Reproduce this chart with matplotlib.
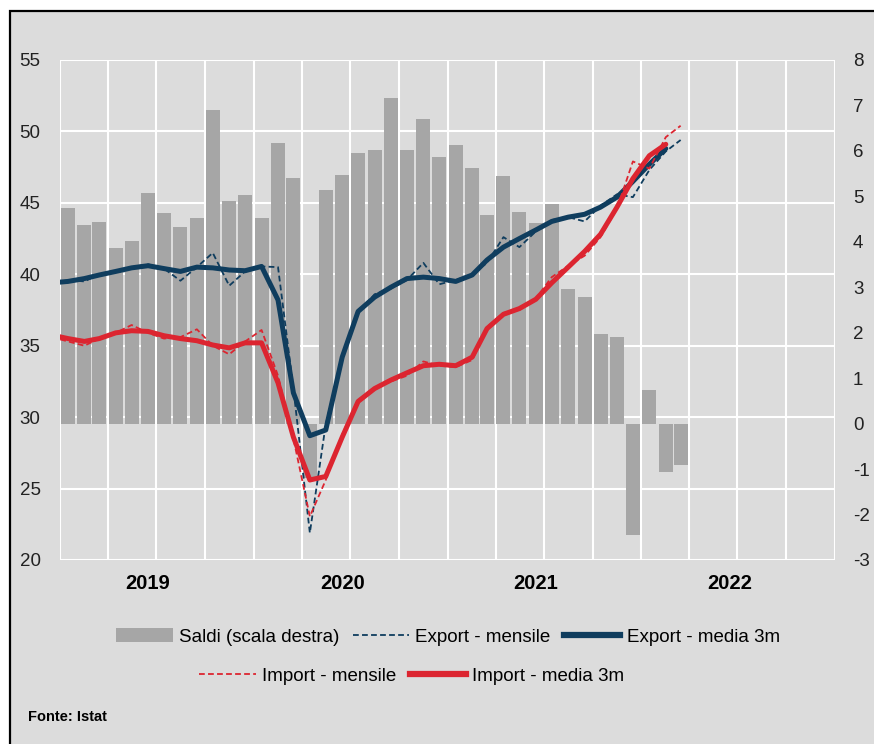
import matplotlib
matplotlib.use("Agg")
import matplotlib.pyplot as plt
import matplotlib.dates as mdates
import pandas as pd
from matplotlib.patches import Rectangle, Patch
from matplotlib.lines import Line2D

plt.rcParams['font.family'] = ['Liberation Sans', 'DejaVu Sans']
plt.rcParams['axes.unicode_minus'] = False

W, H = 874, 744

# monthly lines start in Dec 2018 (clipped by the axis), bars in Jan 2019
line_months = pd.date_range("2018-12-01", "2022-03-01", freq="MS")
bar_months = pd.date_range("2019-01-01", "2022-03-01", freq="MS")

export_mensile = [39.3, 39.6, 39.5, 40.0, 40.2, 40.5, 40.7, 40.4, 39.55, 40.5,
                  41.5, 39.2, 40.2, 40.55, 40.5, 32.0, 21.9, 29.5, 34.2, 37.3,
                  38.6, 39.0, 39.6, 40.8, 39.3, 39.6, 40.0, 40.8, 42.6, 41.9,
                  43.0, 43.8, 44.0, 43.7, 44.8, 45.6, 45.4, 47.3, 48.6, 49.4]
export_3m = [39.4, 39.5, 39.7, 39.95, 40.2, 40.45, 40.6, 40.4, 40.2, 40.5,
             40.45, 40.3, 40.25, 40.55, 38.2, 31.7, 28.7, 29.1, 34.2, 37.4,
             38.4, 39.1, 39.7, 39.8, 39.7, 39.5, 39.95, 41.0, 41.9, 42.5,
             43.1, 43.7, 44.0, 44.2, 44.7, 45.4, 46.5, 47.7, 48.8]
import_mensile = [35.6, 35.3, 35.0, 35.5, 35.9, 36.45, 35.9, 35.5, 35.6, 36.15,
                  35.0, 34.4, 35.3, 36.1, 32.9, 28.5, 23.05, 25.6, 28.8, 31.2,
                  32.0, 32.5, 32.9, 33.9, 33.6, 33.5, 34.0, 36.3, 37.3, 37.5,
                  38.3, 39.8, 40.6, 41.3, 42.6, 44.6, 47.9, 47.4, 49.6, 50.4]
import_3m = [35.75, 35.5, 35.3, 35.5, 35.9, 36.05, 36.0, 35.7, 35.5, 35.35,
             35.05, 34.85, 35.2, 35.2, 32.4, 28.6, 25.6, 25.85, 28.6, 31.1,
             32.0, 32.6, 33.1, 33.6, 33.7, 33.6, 34.2, 36.2, 37.2, 37.6,
             38.25, 39.4, 40.5, 41.6, 42.8, 44.7, 46.7, 48.3, 49.1]
saldi = [4.74, 4.38, 4.44, 3.86, 4.02, 5.07, 4.63, 4.32, 4.53, 6.90,
         4.90, 5.02, 4.52, 6.18, 5.40, -1.2, 5.14, 5.47, 5.95, 6.02,
         7.16, 6.02, 6.70, 5.87, 6.13, 5.62, 4.60, 5.45, 4.66, 4.42,
         4.83, 2.96, 2.78, 1.98, 1.91, -2.45, 0.74, -1.07, -0.91]
years = [2019, 2020, 2021, 2022]

BG = '#dcdcdc'
BAR = '#a6a6a6'
BLUE = '#0f3d5e'
RED = '#dc2530'

fig = plt.figure(figsize=(W / 100, H / 100), dpi=100)
fig.patch.set_facecolor('white')
# grey panel with black frame (only top and left edges are inside the picture)
fig.add_artist(Rectangle((10 / W, -0.1), 1.2, 1.1 - 11 / H,
                         transform=fig.transFigure, facecolor=BG,
                         edgecolor='black', linewidth=1.6, zorder=0))

rect = [60 / W, 1 - 560 / H, 775 / W, 500 / H]

# background axes: left scale, grid
ax = fig.add_axes(rect)
ax.set_facecolor(BG)
ax.set_zorder(1)
# bars: right scale
ax2 = ax.twinx()
ax2.set_zorder(2)
ax2.patch.set_visible(False)
# lines: left scale, on top of bars
ax3 = fig.add_axes(rect, sharex=ax, sharey=ax)
ax3.set_zorder(3)
ax3.patch.set_visible(False)
ax3.axis('off')

line_x = line_months + pd.Timedelta(days=15)
bar_x = bar_months + pd.Timedelta(days=15)

ax2.bar(bar_x, saldi, width=26.5, color=BAR, zorder=2)

ax3.plot(line_x, export_mensile, color=BLUE, lw=1.3, dashes=(3.2, 1.8))
ax3.plot(line_x[:len(export_3m)], export_3m, color=BLUE, lw=3.6,
         solid_joinstyle='round', solid_capstyle='round')
ax3.plot(line_x, import_mensile, color=RED, lw=1.3, dashes=(3.2, 1.8))
ax3.plot(line_x[:len(import_3m)], import_3m, color=RED, lw=3.6,
         solid_joinstyle='round', solid_capstyle='round')

ax.set_xlim(pd.Timestamp("2019-01-01"), pd.Timestamp("2023-01-01"))
ax.set_ylim(20, 55)
ax.set_yticks(range(20, 56, 5))
ax2.set_ylim(-3, 8)
ax2.set_yticks(range(-3, 9))

# quarterly vertical grid, year labels
ax.xaxis.set_minor_locator(mdates.MonthLocator(bymonth=[1, 4, 7, 10]))
ax.set_xticks([pd.Timestamp(f"{y}-06-16") for y in years])
ax.set_xticklabels([str(y) for y in years], fontsize=14.5, fontweight='bold')
ax.grid(True, which='minor', axis='x', color='white', lw=1.5)
ax.grid(True, which='major', axis='y', color='white', lw=1.5)
ax.set_axisbelow(True)

for a in (ax, ax2):
    for s in a.spines.values():
        s.set_visible(False)
ax.tick_params(axis='both', which='both', length=0)
ax.tick_params(axis='y', labelsize=13.5, pad=14, labelcolor='#222222')
ax.tick_params(axis='x', pad=10)
ax2.tick_params(axis='y', length=0, labelsize=13.5, pad=13,
                labelcolor='#222222')

# legend, two centred rows
leg_kw = dict(frameon=False, fontsize=13.5, handlelength=3.0,
              handletextpad=0.35, columnspacing=0.7, borderpad=0,
              borderaxespad=0)
row1 = [Patch(facecolor=BAR, edgecolor='none'),
        Line2D([], [], color=BLUE, lw=1.3, dashes=(3.2, 1.8)),
        Line2D([], [], color=BLUE, lw=4.5)]
row2 = [Line2D([], [], color=RED, lw=1.3, dashes=(3.2, 1.8)),
        Line2D([], [], color=RED, lw=4.5)]
l1 = fig.legend(row1, ["Saldi (scala destra)", "Export - mensile",
                       "Export - media 3m"], ncol=3, loc='center',
                bbox_to_anchor=(448 / W, 1 - 637 / H), **leg_kw)
l2 = fig.legend(row2, ["Import - mensile", "Import - media 3m"], ncol=2,
                loc='center', bbox_to_anchor=(412 / W, 1 - 676 / H), **leg_kw)
for lg in (l1, l2):
    lg.set_zorder(5)

fig.text(28 / W, 1 - 717 / H, "Fonte: Istat", fontsize=10.5,
         fontweight='bold', va='center', ha='left', zorder=5)

fig.savefig("out.png", dpi=100, facecolor=fig.get_facecolor())
